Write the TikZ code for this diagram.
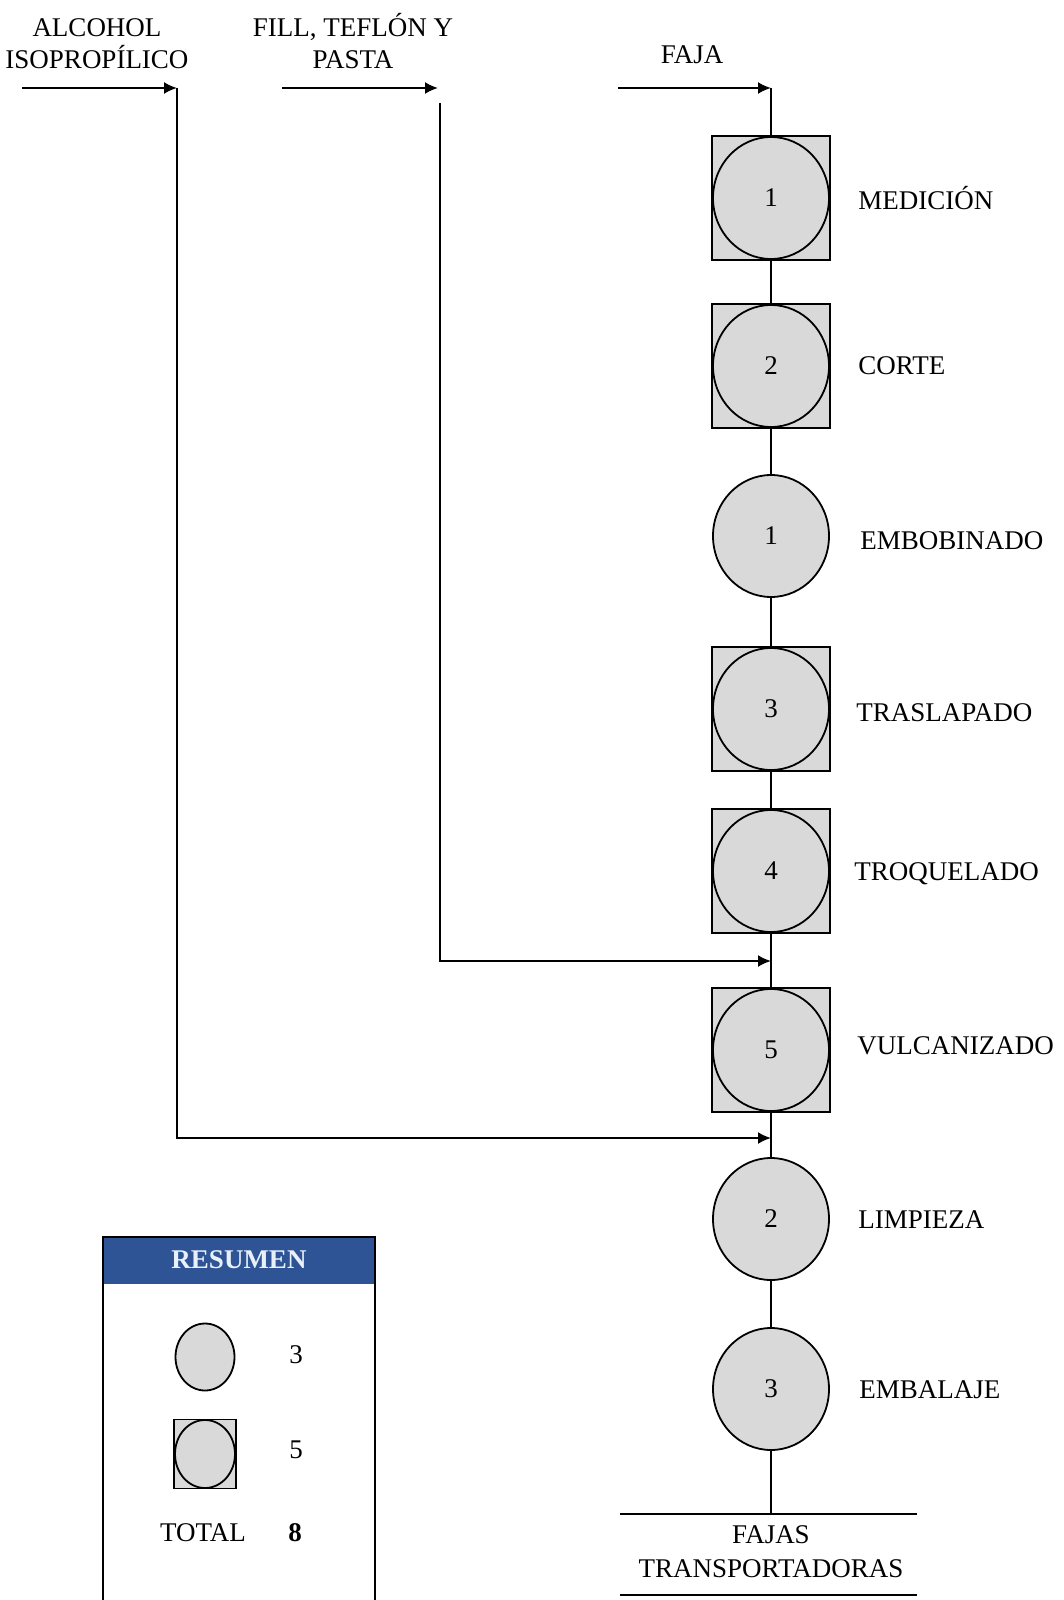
\documentclass[tikz,border=0pt]{standalone}
\usepackage{fontspec}
\setmainfont{Liberation Serif}
\usetikzlibrary{arrows.meta}
\usetikzlibrary{shapes.geometric}
\definecolor{mygray}{RGB}{217,217,217}
\definecolor{myblue}{RGB}{46,84,150}
\definecolor{mywhite}{RGB}{232,240,250}

\tikzset{
  oper/.style={ellipse, draw, line width=0.9pt, fill=mygray, minimum width=58pt, minimum height=61pt, inner sep=0pt},
  combo/.style={rectangle, draw, line width=0.9pt, fill=mygray, minimum width=59pt, minimum height=62pt, inner sep=0pt},
  lbl/.style={anchor=west, inner sep=0pt},
  flow/.style={-{Latex[length=6.5pt,width=6pt]}, line width=1pt},
  link/.style={line width=1pt},
}

\begin{document}
\begin{tikzpicture}[x=0.5pt, y=-0.5pt, font=\fontsize{13.5}{16}\selectfont]
\useasboundingbox (0,0) rectangle (1064,1600);

%inputs
\node[align=center] (alc) at (97,44) {ALCOHOL\\ISOPROPÍLICO};
\node[align=center] (fill) at (353,41) {FILL, TEFLÓN Y\\PASTA};
\node (faja) at (692,55) {FAJA};

\coordinate (A0) at (22,88);
\coordinate (A1) at (177,88);
\coordinate (B0) at (282,88);
\coordinate (B1) at (438,88);
\coordinate (B2) at (440,103);
\coordinate (F0) at (618,88);
\coordinate (F1) at (771,88);
\coordinate (J1) at (771,961);
\coordinate (J2) at (771,1138);
\coordinate (E0) at (771,1514);

%operations
\node[combo] (S1) at (771,198) {};
\node[oper] (O1) at (S1) {1};
\node[lbl] (L1) at (858,198) {MEDICIÓN};

\node[combo] (S2) at (771,366) {};
\node[oper] (O2) at (S2) {2};
\node[lbl] (L2) at (858,366) {CORTE};

\node[oper] (O3) at (771,536) {1};
\node[lbl] (L3) at (860,541) {EMBOBINADO};

\node[combo] (S4) at (771,709) {};
\node[oper] (O4) at (S4) {3};
\node[lbl] (L4) at (856,713) {TRASLAPADO};

\node[combo] (S5) at (771,871) {};
\node[oper] (O5) at (S5) {4};
\node[lbl] (L5) at (854,874) {TROQUELADO};

\node[combo] (S6) at (771,1050) {};
\node[oper] (O6) at (S6) {5};
\node[lbl] (L6) at (857,1046) {VULCANIZADO};

\node[oper] (O7) at (771,1219) {2};
\node[lbl] (L7) at (858,1220) {LIMPIEZA};

\node[oper] (O8) at (771,1389) {3};
\node[lbl] (L8) at (859,1390) {EMBALAJE};

%flow lines
\draw[flow] (F0) -- (F1);
\draw[flow] (A0) -- (A1);
\draw[flow] (B0) -- (B1);
\draw[link] (F1) -- (S1.north);
\draw[link] (S1.south) -- (S2.north);
\draw[link] (S2.south) -- (O3.north);
\draw[link] (O3.south) -- (S4.north);
\draw[link] (S4.south) -- (S5.north);
\draw[link] (S5.south) -- (S6.north);
\draw[link] (S6.south) -- (O7.north);
\draw[link] (O7.south) -- (O8.north);
\draw[link] (O8.south) -- (E0);
\draw[flow] (B2) |- (J1);
\draw[flow] (A1) |- (J2);

%output
\draw[link] (620,1514) -- (917,1514);
\draw[link] (620,1595) -- (917,1595);
\node[align=center, font=\fontsize{13.5}{17}\selectfont] (out) at (771,1552) {FAJAS\\TRANSPORTADORAS};

%summary
\fill[myblue] (103,1237) rectangle (375,1284);
\draw[line width=0.9pt] (103,1602) -- (103,1237) -- (375,1237) -- (375,1602);
\node[text=mywhite] (res) at (239,1260) {\textbf{RESUMEN}};

\node[oper, minimum width=29.5pt, minimum height=33.5pt] (R1) at (205,1357) {};
\node (N1) at (296,1355) {3};
\node[combo, minimum width=31pt, minimum height=34.5pt] (R2) at (205,1454) {};
\node[oper, minimum width=30pt, minimum height=34pt] (R3) at (R2) {};
\node (N2) at (296,1450) {5};
\node (tot) at (203,1533) {TOTAL};
\node (N3) at (295,1533) {\textbf{8}};
\end{tikzpicture}
\end{document}
